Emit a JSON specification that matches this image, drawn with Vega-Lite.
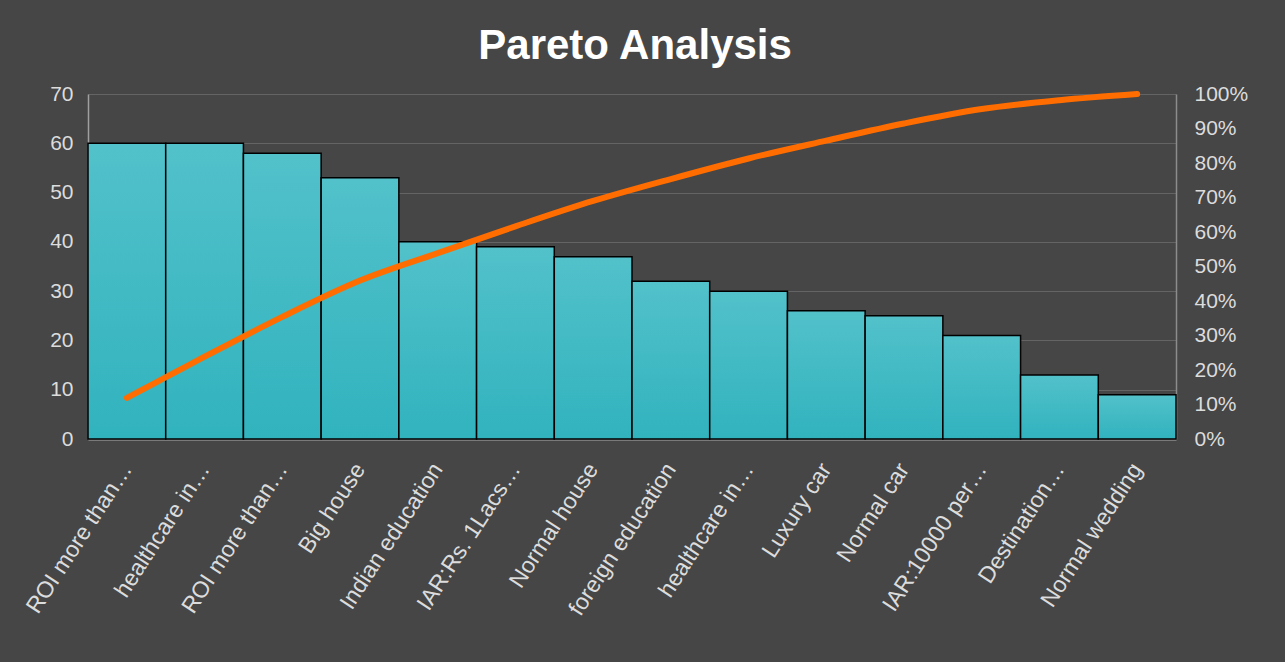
{
  "$schema": "https://vega.github.io/schema/vega-lite/v6.json",
  "width": 1088,
  "height": 345,
  "autosize": {"type": "none"},
  "padding": {"left": 88, "top": 94, "right": 109, "bottom": 223},
  "background": "#464646",
  "title": {
    "text": "Pareto Analysis",
    "fontSize": 42,
    "fontWeight": "bold",
    "font": "Liberation Sans",
    "color": "#ffffff",
    "anchor": "middle",
    "frame": "bounds",
    "offset": 14
  },
  "config": {
    "view": {"stroke": null},
    "axis": {
      "labelFont": "Liberation Sans",
      "labelFontSize": 21,
      "labelColor": "#dcdcdc",
      "ticks": false,
      "titleColor": "#dcdcdc"
    }
  },
  "data": {
    "values": [
      {"key": "ROI more than…#1", "rank": 1, "value": 60, "cumulative": 0.1193},
      {"key": "healthcare in…#2", "rank": 2, "value": 60, "cumulative": 0.2386},
      {"key": "ROI more than…#3", "rank": 3, "value": 58, "cumulative": 0.3539},
      {"key": "Big house#4", "rank": 4, "value": 53, "cumulative": 0.4592},
      {"key": "Indian  education#5", "rank": 5, "value": 40, "cumulative": 0.5388},
      {"key": "IAR:Rs. 1Lacs…#6", "rank": 6, "value": 39, "cumulative": 0.6163},
      {"key": "Normal house#7", "rank": 7, "value": 37, "cumulative": 0.6899},
      {"key": "foreign education#8", "rank": 8, "value": 32, "cumulative": 0.7535},
      {"key": "healthcare in…#9", "rank": 9, "value": 30, "cumulative": 0.8131},
      {"key": "Luxury car#10", "rank": 10, "value": 26, "cumulative": 0.8648},
      {"key": "Normal car#11", "rank": 11, "value": 25, "cumulative": 0.9145},
      {"key": "IAR:10000 per…#12", "rank": 12, "value": 21, "cumulative": 0.9563},
      {"key": "Destination…#13", "rank": 13, "value": 13, "cumulative": 0.9821},
      {"key": "Normal wedding#14", "rank": 14, "value": 9, "cumulative": 1.0}
    ]
  },
  "encoding": {
    "x": {
      "field": "key",
      "type": "nominal",
      "sort": {"field": "rank"},
      "scale": {"paddingInner": 0, "paddingOuter": 0},
      "axis": {
        "title": null,
        "labelAngle": -57,
        "labelFontSize": 23,
        "labelExpr": "split(datum.value, '#')[0]",
        "labelPadding": 26,
        "domainColor": "#8c8c8c",
        "domainWidth": 2.5,
        "grid": false
      }
    }
  },
  "layer": [
    {
      "mark": {
        "type": "bar",
        "stroke": "#000000",
        "strokeWidth": 1.5,
        "color": {
          "gradient": "linear",
          "x1": 0, "y1": 0, "x2": 0, "y2": 1,
          "stops": [
            {"offset": 0, "color": "#52c1ca"},
            {"offset": 1, "color": "#31b3be"}
          ]
        }
      },
      "encoding": {
        "y": {
          "field": "value",
          "type": "quantitative",
          "scale": {"domain": [0, 70], "nice": false},
          "axis": {
            "title": null,
            "values": [0, 10, 20, 30, 40, 50, 60, 70],
            "labelPadding": 15,
            "domainColor": "#a0a0a0",
            "domainWidth": 1.5,
            "grid": true,
            "gridColor": "#646464",
            "gridWidth": 1.2
          }
        }
      }
    },
    {
      "mark": {
        "type": "line",
        "color": "#ff6c00",
        "strokeWidth": 6,
        "strokeCap": "round",
        "interpolate": "monotone"
      },
      "encoding": {
        "y": {
          "field": "cumulative",
          "type": "quantitative",
          "scale": {"domain": [0, 1], "nice": false},
          "axis": {
            "title": null,
            "orient": "right",
            "values": [0, 0.1, 0.2, 0.3, 0.4, 0.5, 0.6, 0.7, 0.8, 0.9, 1],
            "format": ".0%",
            "labelPadding": 18,
            "domainColor": "#8c8c8c",
            "domainWidth": 1.5,
            "grid": false
          }
        }
      }
    }
  ],
  "resolve": {"scale": {"y": "independent"}}
}
